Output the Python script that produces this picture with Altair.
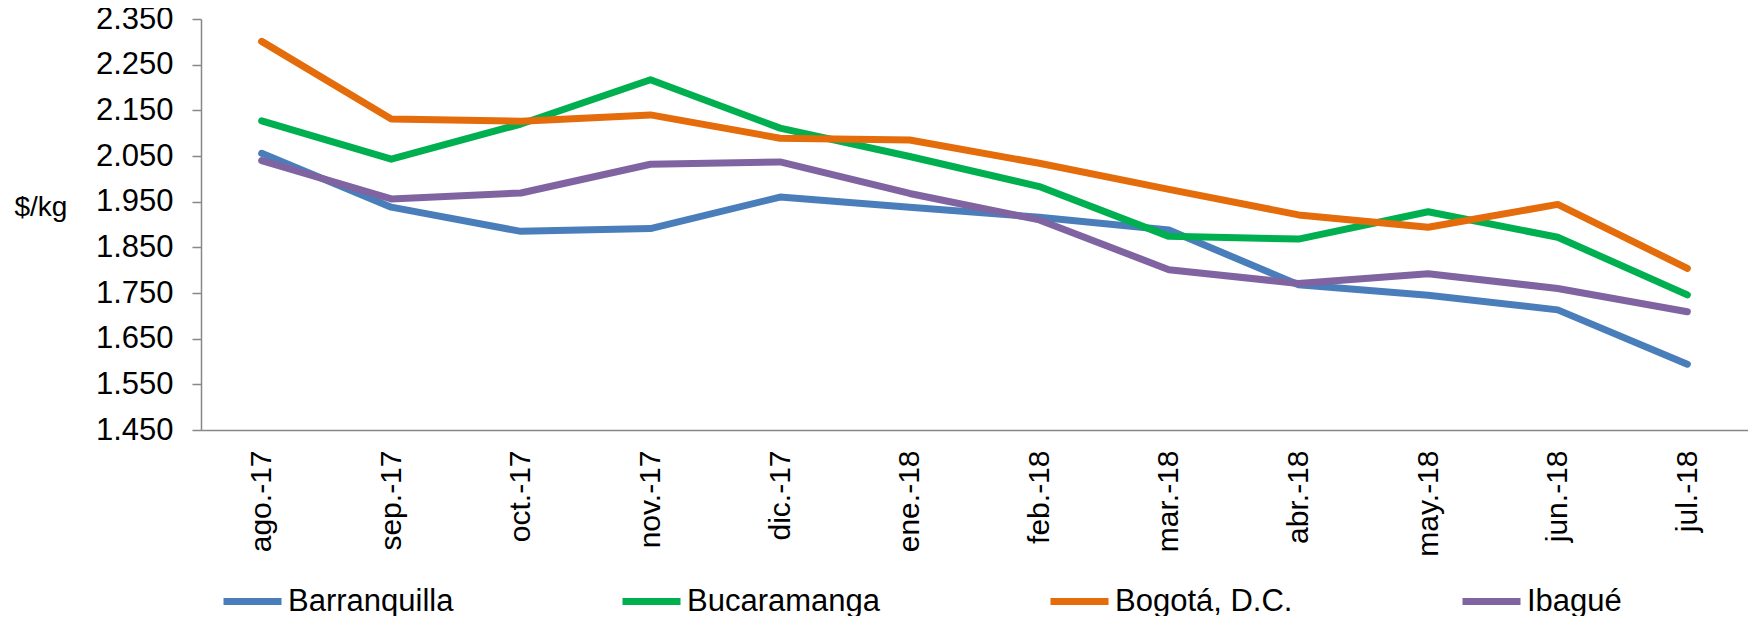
import altair as alt
import pandas as pd

months = ["ago.-17", "sep.-17", "oct.-17", "nov.-17", "dic.-17", "ene.-18",
          "feb.-18", "mar.-18", "abr.-18", "may.-18", "jun.-18", "jul.-18"]
cities = ["Barranquilla", "Bucaramanga", "Bogotá, D.C.", "Ibagué"]
barranquilla = [2056, 1938, 1885, 1891, 1960, 1938, 1916, 1888, 1768, 1745, 1713, 1594]
bucaramanga = [2127, 2043, 2120, 2217, 2111, 2049, 1983, 1874, 1868, 1928, 1872, 1746]
bogota = [2301, 2131, 2126, 2140, 2089, 2085, 2034, 1977, 1921, 1894, 1944, 1804]
ibague = [2040, 1956, 1969, 2032, 2037, 1968, 1910, 1801, 1771, 1792, 1760, 1709]
colors = ["#4A7EBB", "#00B050", "#E46C0A", "#8064A2"]
y_ticks = [1450, 1550, 1650, 1750, 1850, 1950, 2050, 2150, 2250, 2350]
legend_x = [19, 418, 846, 1258]

series = [barranquilla, bucaramanga, bogota, ibague]
rows = []
for ci, (city, vals) in enumerate(zip(cities, series)):
    for mi, (m, v) in enumerate(zip(months, vals)):
        rows.append({"mes": m, "ciudad": city, "precio": v})
df = pd.DataFrame(rows)

font = "Liberation Sans"
axis_color = "#878787"

x_enc = alt.X("mes:N", sort=months,
              scale=alt.Scale(type="point", padding=0.468),
              axis=alt.Axis(title=None, labelAngle=-90, labelFontSize=30, labelFont=font,
                            labelColor="#000000", ticks=False, tickSize=0, labelPadding=20,
                            domainColor=axis_color, domainWidth=1.5, grid=False))
y_enc = alt.Y("precio:Q",
              scale=alt.Scale(domain=[1450, 2350], nice=False, zero=False),
              axis=alt.Axis(title="$/kg", titleAngle=0, titleX=-187, titleY=188,
                            titleAlign="left", titleBaseline="middle", titleFontSize=28,
                            titleFont=font, titleFontWeight="normal", titleColor="#000000",
                            values=y_ticks,
                            labelExpr="replace(format(datum.value, ',.0f'), ',', '.')",
                            labelFontSize=31, labelFont=font, labelColor="#000000",
                            tickSize=9, tickColor=axis_color, tickWidth=1.5, labelPadding=19,
                            domainColor=axis_color, domainWidth=1.5, grid=False))

layers = []
for city, col, lx in zip(cities, colors, legend_x):
    layer = alt.Chart(df).transform_filter(
        alt.datum.ciudad == city
    ).mark_line(strokeWidth=7, strokeCap="round", strokeJoin="round").encode(
        x=x_enc,
        y=y_enc,
        color=alt.Color("ciudad:N",
                        scale=alt.Scale(domain=[city], range=[col]),
                        legend=alt.Legend(title=None, orient="none", legendX=lx, legendY=550,
                                          symbolType="stroke", symbolSize=3364,
                                          symbolStrokeWidth=7, labelOffset=3, labelLimit=0,
                                          labelFontSize=31, labelFont=font,
                                          labelColor="#000000", padding=0)),
    )
    layers.append(layer)

chart = alt.layer(*layers).resolve_scale(color="independent").properties(
    width=1547, height=411,
    autosize=alt.AutoSizeParams(type="none"),
    padding={"left": 193, "top": 11, "right": 0, "bottom": 186},
).configure_view(stroke=None)

chart.save("out.html", embed_options={"renderer": "svg", "actions": False})
